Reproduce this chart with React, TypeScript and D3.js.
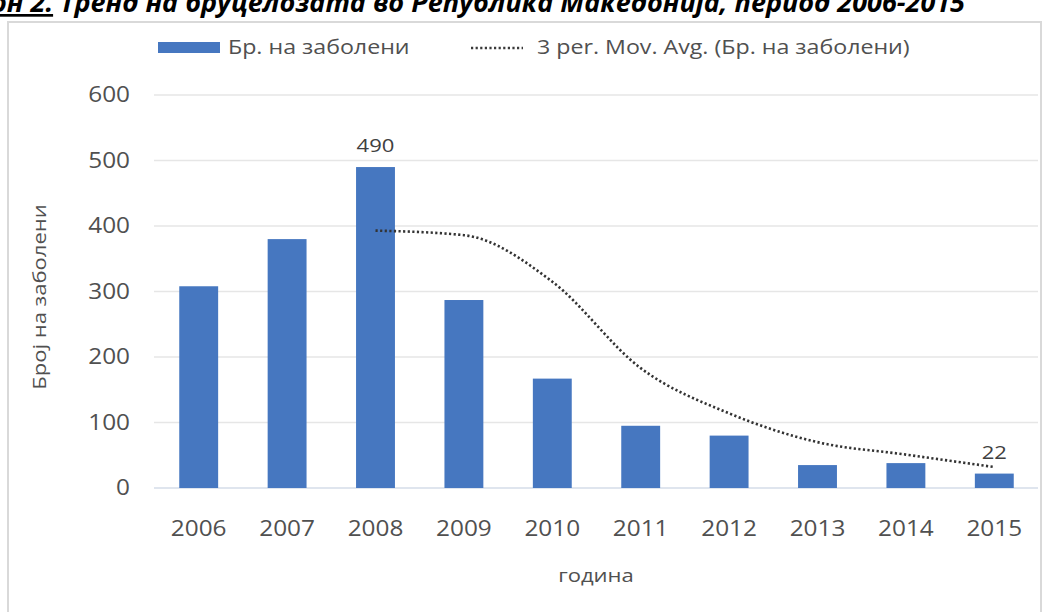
import React from "react";
import * as d3 from "d3";

const years = ["2006", "2007", "2008", "2009", "2010", "2011", "2012", "2013", "2014", "2015"];
const cases = [308, 380, 490, 287, 167, 95, 80, 35, 38, 22];
const maYears = ["2008", "2009", "2010", "2011", "2012", "2013", "2014", "2015"];
const movingAvg = [393, 386, 315, 183, 114, 70, 51, 32];
const yTicks = [0, 100, 200, 300, 400, 500, 600];
const labeledYears = ["2008", "2015"];

const W = 1049;
const H = 612;
const FONT = "'Open Sans', 'Noto Sans', sans-serif";
const BLUE = "#4677c0";
const TEXT = "#505050";
const SX = 1.16;

type TxtProps = {
  x: number;
  y: number;
  size: number;
  anchor?: "start" | "middle" | "end";
  fill?: string;
  rotate?: number;
  dy?: string;
  children: React.ReactNode;
};

function Txt({ x, y, size, anchor = "start", fill = TEXT, rotate = 0, dy, children }: TxtProps) {
  return (
    <text
      transform={`translate(${x},${y}) rotate(${rotate}) scale(${SX},1)`}
      textAnchor={anchor}
      fontSize={size}
      fill={fill}
      dy={dy}
    >
      {children}
    </text>
  );
}

export default function App() {
  const x = d3.scaleBand<string>().domain(years).range([154.5, 1038.5]).paddingInner(0.56).paddingOuter(0.28);
  const y = d3.scaleLinear().domain([0, 600]).range([488, 95]);
  const cx = (yr: string) => (x(yr) as number) + x.bandwidth() / 2;
  const line = d3
    .line<number>()
    .x((_, i) => cx(maYears[i]))
    .y((d) => y(d))
    .curve(d3.curveMonotoneX);

  return (
    <svg
      width={W}
      height={H}
      style={{ position: "absolute", left: 0, top: 0, background: "#fff" }}
      fontFamily={FONT}
    >
      {/* cut-off title */}
      <text x={965} y={12} textAnchor="end" fontSize={27} fontWeight="bold" fontStyle="italic" fill="#000">
        <tspan textDecoration="underline">Графикон 2.</tspan>
        <tspan> Тренд на бруцелозата во Република Македонија, период 2006-2015</tspan>
      </text>
      {/* chart frame */}
      <rect x={8} y={22} width={1033} height={620} fill="#fff" stroke="#d9d9d9" strokeWidth={2} />

      {/* legend */}
      <rect x={158} y={42} width={62} height={11} fill={BLUE} />
      <Txt x={228} y={54} size={20}>Бр. на заболени</Txt>
      <line x1={471} x2={523} y1={48} y2={48} stroke="#3a3a3a" strokeWidth={2.4} strokeDasharray="2.2 2.4" />
      <Txt x={537} y={54} size={20}>3 per. Mov. Avg. (Бр. на заболени)</Txt>

      {/* gridlines and y ticks */}
      {yTicks.map((t) => (
        <g key={t}>
          <line x1={154} x2={1038} y1={y(t)} y2={y(t)} stroke={t === 0 ? "#d5dce8" : "#e6e6e6"} strokeWidth={1.5} />
          <Txt x={130} y={y(t)} dy="0.35em" anchor="end" size={21}>
            {t}
          </Txt>
        </g>
      ))}

      {/* bars */}
      {years.map((yr, i) => (
        <rect key={yr} x={x(yr)} y={y(cases[i])} width={x.bandwidth()} height={y(0) - y(cases[i])} fill={BLUE} />
      ))}

      {/* value labels */}
      {labeledYears.map((yr) => {
        const v = cases[years.indexOf(yr)];
        return (
          <Txt key={yr} x={cx(yr)} y={y(v) - 15} anchor="middle" size={19} fill="#404040">
            {v}
          </Txt>
        );
      })}

      {/* moving average */}
      <path d={line(movingAvg) || ""} fill="none" stroke="#333" strokeWidth={2.6} strokeDasharray="2.2 2.4" />

      {/* x labels */}
      {years.map((yr) => (
        <Txt key={yr} x={cx(yr)} y={536} anchor="middle" size={21}>
          {yr}
        </Txt>
      ))}
      <Txt x={596} y={582} anchor="middle" size={19}>година</Txt>
      <text
        transform={`translate(46,297) rotate(-90) scale(${SX},1)`}
        textAnchor="middle"
        fontSize={19}
        fill={TEXT}
      >
        Број на заболени
      </text>
    </svg>
  );
}
